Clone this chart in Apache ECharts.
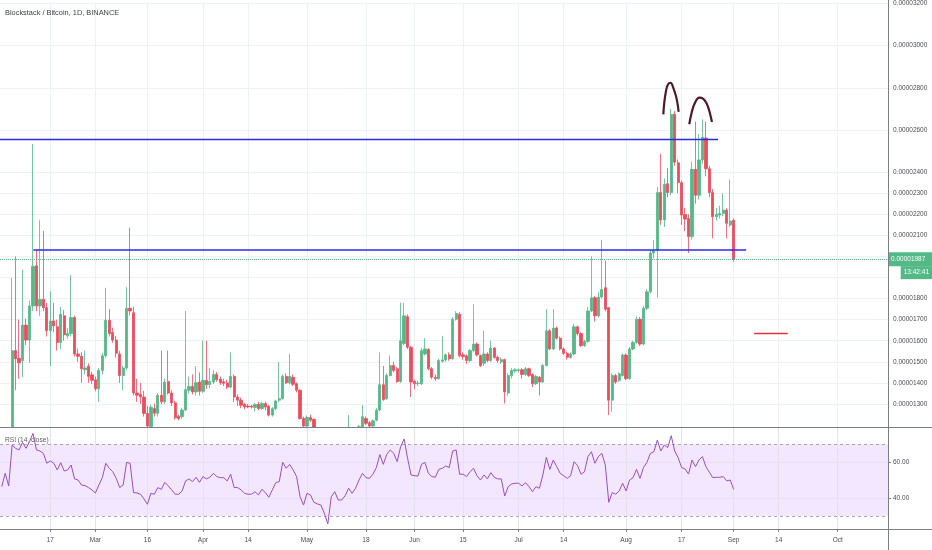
<!DOCTYPE html>
<html><head><meta charset="utf-8">
<script src="https://cdn.jsdelivr.net/npm/echarts@6/dist/echarts.min.js"></script>
<style>html,body{margin:0;padding:0;background:#fff}#c{width:932px;height:550px}</style>
</head><body><div id="c"></div>
<script>
// ---------- data (prices in satoshi, 1e-8 BTC) ----------
const startDate = [2020, 1, 3];   // 2020-02-03 (UTC, month 0-based)
const dayCount = 256;             // visible days on the time axis
const titleText = 'Blockstack / Bitcoin, 1D, BINANCE';
const rsiTitle = 'RSI (14, close)';
const countdownText = '13:42:41';

const openP = [1150,1130,1175,1150,1553,1517,1506,1674,1603,1765,
1956,1765,1796,1757,1647,1694,1666,1592,1718,1623,
1634,1710,1537,1526,1462,1479,1438,1415,1372,1459,
1529,1697,1639,1603,1537,1435,1471,1754,1733,1352,
1345,1333,1255,1192,1278,1256,1341,1310,1407,1352,
1305,1242,1239,1271,1365,1383,1357,1404,1360,1412,
1392,1404,1440,1418,1405,1400,1380,1431,1333,1318,
1299,1290,1289,1283,1299,1278,1302,1289,1247,1278,
1318,1325,1431,1400,1427,1396,1365,1231,1195,1236,
1227,1178,1170,1162,1125,1075,1150,1165,1135,1136,
1150,1172,1158,1174,1192,1231,1211,1195,1223,1271,
1391,1325,1435,1482,1467,1407,1587,1714,1569,1407,
1396,1396,1537,1558,1467,1427,1420,1503,1509,1533,
1514,1702,1725,1533,1528,1506,1553,1584,1529,1493,
1537,1506,1564,1521,1500,1510,1352,1435,1456,1459,
1462,1440,1467,1440,1396,1427,1404,1482,1647,1561,
1660,1612,1561,1540,1521,1537,1666,1634,1577,1597,
1741,1804,1718,1807,1851,1757,1318,1435,1412,1435,
1532,1420,1561,1592,1702,1584,1754,1832,2016,2028,
2303,2173,2345,2303,2674,2444,2350,2199,2180,2094,
2413,2290,2458,2562,2416,2303,2188,2196,2204,2220,
2149,2172];
const closeP = [1130,1175,1150,1553,1514,1495,1674,1603,1765,1953,
1765,1796,1757,1647,1694,1670,1592,1725,1628,1634,
1710,1537,1526,1467,1471,1431,1412,1372,1459,1529,
1697,1634,1603,1540,1435,1471,1754,1741,1352,1341,
1333,1255,1195,1284,1256,1341,1310,1404,1352,1305,
1234,1231,1271,1368,1383,1357,1401,1360,1412,1392,
1407,1440,1415,1401,1398,1380,1431,1333,1318,1294,
1286,1286,1285,1297,1278,1302,1285,1247,1278,1314,
1325,1431,1400,1431,1393,1365,1231,1195,1236,1223,
1178,1170,1162,1125,1075,1150,1165,1135,1136,1150,
1172,1158,1174,1192,1239,1208,1195,1220,1271,1391,
1321,1435,1482,1459,1407,1600,1718,1569,1404,1396,
1399,1553,1561,1467,1427,1420,1506,1509,1533,1514,
1702,1729,1529,1525,1506,1553,1584,1533,1482,1537,
1506,1564,1521,1506,1510,1357,1435,1459,1462,1462,
1440,1467,1435,1396,1431,1404,1482,1647,1561,1660,
1612,1561,1540,1521,1537,1666,1634,1577,1597,1741,
1804,1718,1807,1843,1749,1318,1435,1404,1443,1532,
1420,1561,1592,1702,1584,1754,1832,2016,2028,2303,
2173,2342,2303,2674,2447,2350,2196,2177,2094,2413,
2290,2458,2565,2416,2303,2188,2199,2204,2220,2157,
2168,1987];
const lowP = [1112,1122,1138,1140,1365,1420,1427,1580,1495,1740,
1740,1718,1740,1620,1480,1640,1553,1560,1600,1610,
1620,1525,1500,1400,1440,1400,1395,1360,1310,1440,
1520,1620,1590,1520,1400,1365,1460,1720,1340,1310,
1300,1240,1180,1180,1240,1240,1298,1300,1345,1290,
1225,1222,1230,1265,1350,1345,1340,1340,1352,1372,
1375,1395,1405,1390,1385,1370,1375,1310,1290,1280,
1275,1280,1278,1265,1270,1272,1270,1240,1240,1270,
1310,1320,1395,1392,1385,1355,1225,1185,1188,1215,
1170,1160,1150,1115,1060,1070,1140,1125,1125,1130,
1145,1150,1152,1170,1185,1200,1188,1190,1218,1265,
1315,1320,1430,1450,1400,1400,1580,1560,1333,1370,
1385,1390,1530,1460,1418,1410,1415,1495,1500,1505,
1510,1695,1520,1510,1490,1498,1545,1525,1475,1480,
1498,1500,1515,1495,1490,1302,1340,1420,1448,1450,
1420,1432,1428,1380,1390,1340,1400,1478,1555,1555,
1605,1555,1532,1510,1515,1530,1625,1570,1570,1590,
1735,1690,1710,1800,1740,1247,1263,1395,1405,1430,
1412,1415,1555,1585,1575,1578,1745,1825,1990,1804,
2150,2140,2280,2290,2430,2300,2150,2120,2016,2080,
2250,2270,2440,2380,2280,2086,2170,2180,2190,2086,
2140,1975];
const highP = [1168,1184,1186,1898,2000,1700,1937,1705,1790,2533,
2031,2172,2121,1780,1835,1780,1700,1760,1745,1660,
1911,1718,1562,1545,1553,1492,1452,1430,1470,1542,
1851,1750,1662,1622,1552,1482,1854,2136,1762,1420,
1400,1362,1290,1296,1302,1352,1553,1420,1553,1365,
1315,1250,1282,1741,1430,1440,1480,1450,1600,1600,
1470,1460,1452,1430,1420,1415,1545,1440,1345,1330,
1305,1300,1296,1305,1310,1310,1312,1295,1285,1320,
1498,1440,1445,1537,1440,1402,1370,1240,1245,1250,
1232,1185,1180,1170,1130,1160,1175,1170,1145,1160,
1247,1180,1182,1200,1294,1240,1218,1226,1280,1545,
1480,1445,1530,1500,1475,1780,1780,1725,1575,1415,
1410,1565,1612,1565,1475,1440,1515,1623,1540,1545,
1712,1740,1735,1545,1535,1560,1773,1592,1535,1647,
1545,1600,1570,1530,1520,1515,1445,1470,1470,1468,
1470,1475,1472,1445,1438,1432,1490,1749,1655,1749,
1668,1620,1568,1548,1545,1680,1672,1640,1605,1760,
2000,1812,1830,2078,1980,1760,1445,1442,1450,1540,
1540,1570,1600,1715,1712,1765,1845,2030,2078,2330,
2486,2370,2420,2700,2690,2460,2360,2230,2200,2450,
2640,2580,2650,2640,2430,2320,2230,2240,2298,2230,
2365,2180];
const rsi = [46.3,53.7,46.7,69.4,67.6,66.7,70.9,67.6,71.3,75.9,
66.7,66.1,64.8,59.3,60.6,59.3,55.6,59.6,55.0,55.6,
58.3,50.6,50.0,47.2,46.9,45.8,44.5,42.8,47.2,51.3,
59.3,56.5,54.6,50.9,45.8,47.2,59.8,59.3,43.0,42.8,
42.1,39.5,36.5,42.6,42.1,45.8,44.8,48.7,46.7,44.5,
42.1,42.1,43.9,49.5,50.6,49.1,51.5,48.7,51.9,50.6,
51.5,53.7,51.9,51.3,51.3,49.5,53.2,45.8,45.8,44.5,
42.6,42.1,42.1,43.5,41.7,44.8,43.0,40.4,44.5,48.5,
49.1,59.8,56.5,58.7,55.6,51.9,40.7,36.1,42.6,41.7,
37.6,36.7,36.1,31.5,25.6,40.7,43.5,38.9,38.9,41.3,
45.4,42.6,45.4,50.0,53.7,51.3,50.9,53.2,56.9,64.1,
58.7,64.3,66.7,64.8,60.2,68.5,72.8,62.0,52.8,52.4,
52.2,58.7,59.8,53.7,51.9,51.5,55.9,56.5,57.8,56.9,
66.1,66.7,53.2,53.2,51.9,54.6,56.5,52.4,50.0,52.8,
50.6,54.1,51.5,50.6,50.6,41.1,46.3,47.8,48.2,48.2,
46.7,48.5,46.3,43.5,46.3,45.4,52.8,62.6,55.9,61.1,
57.4,53.7,52.4,50.9,52.4,60.2,58.0,53.2,54.6,63.0,
65.7,59.3,63.0,64.8,58.3,37.6,43.0,42.1,43.9,48.2,
43.9,50.0,51.3,55.9,50.9,56.9,59.8,64.8,65.7,72.2,
66.1,69.4,68.0,74.6,66.1,62.4,56.9,56.1,53.3,61.1,
57.4,61.1,63.0,57.4,54.3,51.3,51.5,51.5,51.9,49.5,
50.0,44.8];

const tickDates = ['2020-02-17','2020-03-01','2020-03-16','2020-04-01','2020-04-14','2020-05-01','2020-05-18','2020-06-01','2020-06-15','2020-07-01','2020-07-14','2020-08-01','2020-08-17','2020-09-01','2020-09-14','2020-10-01'];
const tickLabels = ['17','Mar','16','Apr','14','May','18','Jun','15','Jul','14','Aug','17','Sep','14','Oct'];
const priceLabelValues = [1300,1400,1500,1600,1700,1800,2100,2200,2300,2400,2600,2800,3000,3200];
const priceGridValues = [1300,1400,1500,1600,1700,1800,1900,2000,2100,2200,2300,2400,2600,2800,3000,3200];
const priceRange = [1190.6, 3200];
const rsiRange = [22.78, 79.44];
const rsiLabelValues = [40, 60];
const rsiBand = [30, 70];

// drawn annotations: [day index from 2020-02-03, price]
const resistanceLine = [[-0.5, 2555], [206.5, 2555]];
const supportLine = [[9.1, 2031], [214.6, 2031]];
const targetLine = [[216.9, 1634], [226.6, 1634]];
const arcLeft = [[190.72,2674],[191.0,2729],[191.49,2784],[192.06,2816],[192.83,2824],[193.6,2800],[194.37,2761],[194.85,2722],[195.14,2686]];
const arcRight = [[198.21,2627],[198.89,2682],[199.85,2729],[201.1,2753],[202.25,2748],[203.22,2726],[203.99,2690],[204.75,2638]];

// ---------- build ----------
const FONT = 'Liberation Sans';
const UP = '#53b987', DOWN = '#eb4d5c';
const GRID = '#edf0f4', AXIS = '#7b7e87', TXT = '#4a4d55';

const dates = [];
const t0 = Date.UTC(startDate[0], startDate[1], startDate[2]);
for (let k = 0; k < dayCount; k++) dates.push(new Date(t0 + k * 86400000).toISOString().slice(0, 10));
const labelMap = {};
tickDates.forEach((d, k) => labelMap[d] = tickLabels[k]);
const isTick = (idx, val) => labelMap[val] !== undefined;

const candles = openP.map((o, i) => [o, closeP[i], lowP[i], highP[i]]);
const lastClose = closeP[closeP.length - 1];
const fmtPrice = v => (v * 1e-8).toFixed(8);

const chart = echarts.init(document.getElementById('c'), null, {renderer: 'canvas'});
const option = {
  animation: false,
  backgroundColor: '#ffffff',
  textStyle: {fontFamily: FONT},
  title: [
    {text: titleText, left: 5, top: 9, padding: 0, textStyle: {fontSize: 7.4, fontWeight: 'normal', color: '#3e414b', fontFamily: FONT}},
    {text: rsiTitle, left: 5, top: 437, padding: 0, z: 20, textStyle: {fontSize: 6.6, fontWeight: 'normal', color: '#5d606b', fontFamily: FONT}}
  ],
  grid: [
    {left: 0, right: 44, top: 0, height: 427},
    {left: 0, right: 44, top: 427, height: 102}
  ],
  xAxis: [
    {type: 'category', gridIndex: 0, data: dates, boundaryGap: true, show: false},
    {type: 'category', gridIndex: 1, data: dates, boundaryGap: true,
      axisLine: {show: false},
      axisTick: {show: true, interval: isTick, alignWithLabel: true, length: 3, lineStyle: {color: AXIS}},
      axisLabel: {show: true, interval: isTick, formatter: v => labelMap[v] || '', fontSize: 6.5, color: TXT, margin: 8, fontFamily: FONT},
      splitLine: {show: false}},
    {type: 'value', gridIndex: 0, min: -0.5, max: dayCount - 0.5, show: false}
  ],
  yAxis: [
    {type: 'value', gridIndex: 0, position: 'right', min: priceRange[0], max: priceRange[1],
      axisLine: {show: false},
      axisTick: {show: true, customValues: priceLabelValues, length: 3, lineStyle: {color: AXIS}},
      axisLabel: {customValues: priceLabelValues, formatter: fmtPrice, fontSize: 6.5, color: TXT, margin: 5, fontFamily: FONT},
      splitLine: {show: false}},
    {type: 'value', gridIndex: 1, position: 'right', min: rsiRange[0], max: rsiRange[1],
      axisLine: {show: false},
      axisTick: {show: true, customValues: rsiLabelValues, length: 3, lineStyle: {color: AXIS}},
      axisLabel: {customValues: rsiLabelValues, formatter: v => v.toFixed(2), fontSize: 6.5, color: TXT, margin: 5, fontFamily: FONT},
      splitLine: {show: false}}
  ],
  series: [
    {type: 'line', xAxisIndex: 0, yAxisIndex: 0, data: [], z: 1, silent: true,
      markLine: {z: 1, silent: true, symbol: ['none', 'none'], animation: false, label: {show: false},
        lineStyle: {color: GRID, width: 1, type: 'solid'},
        data: priceGridValues.map(v => ({yAxis: v})).concat(tickDates.map(d => ({xAxis: d})))}},
    {type: 'candlestick', xAxisIndex: 0, yAxisIndex: 0, data: candles, z: 3, barWidth: '80%', clip: true,
      itemStyle: {color: UP, color0: DOWN, borderColor: UP, borderColor0: DOWN, borderWidth: 0.8},
      markLine: {z: 6, silent: true, symbol: ['none', 'none'], animation: false,
        lineStyle: {color: UP, type: 'dotted', width: 1},
        label: {show: true, position: 'end', distance: 0, padding: [13, 0, 0, 0],
          formatter: p => '{p|' + fmtPrice(p.value) + '}\n{t|' + countdownText + '}',
          rich: {
            p: {backgroundColor: UP, color: '#fff', fontSize: 6.5, fontFamily: FONT, padding: [4, 3, 3, 3], width: 38, align: 'left'},
            t: {backgroundColor: UP, color: '#fff', fontSize: 6.5, fontFamily: FONT, padding: [3, 3, 3, 3], align: 'right'}
          }},
        data: [{yAxis: lastClose}]}},
    {type: 'line', xAxisIndex: 2, yAxisIndex: 0, data: resistanceLine, symbol: 'none', z: 5, silent: true, lineStyle: {color: '#2b2be6', width: 1.5}},
    {type: 'line', xAxisIndex: 2, yAxisIndex: 0, data: supportLine, symbol: 'none', z: 5, silent: true, lineStyle: {color: '#2b2be6', width: 1.5}},
    {type: 'line', xAxisIndex: 2, yAxisIndex: 0, data: targetLine, symbol: 'none', z: 5, silent: true, lineStyle: {color: '#e8303c', width: 1.6}},
    {type: 'line', xAxisIndex: 2, yAxisIndex: 0, data: arcLeft, symbol: 'none', smooth: 0.4, z: 5, silent: true, lineStyle: {color: '#4d1a2c', width: 2.2}},
    {type: 'line', xAxisIndex: 2, yAxisIndex: 0, data: arcRight, symbol: 'none', smooth: 0.4, z: 5, silent: true, lineStyle: {color: '#4d1a2c', width: 2.2}},
    {type: 'line', xAxisIndex: 1, yAxisIndex: 1, data: [], z: 10, silent: true,
      markArea: {z: 10, silent: true, data: [
        [{yAxis: rsiRange[0], itemStyle: {color: '#ffffff'}}, {yAxis: rsiRange[1]}],
        [{yAxis: rsiBand[0], itemStyle: {color: '#f3e7ff'}}, {yAxis: rsiBand[1]}]
      ]},
      markLine: {z: 11, silent: true, symbol: ['none', 'none'], animation: false, label: {show: false},
        lineStyle: {color: '#e6e1ec', width: 1, type: 'solid'},
        data: rsiLabelValues.map(v => ({yAxis: v}))
          .concat(tickDates.map(d => ({xAxis: d})))
          .concat(rsiBand.map(v => ({yAxis: v, lineStyle: {color: '#a9a9b3', type: [3, 3], width: 1}})))}},
    {type: 'line', xAxisIndex: 1, yAxisIndex: 1, data: rsi, symbol: 'none', z: 12, silent: true, lineStyle: {color: '#9a4fc0', width: 1}}
  ],
  graphic: [
    {type: 'line', shape: {x1: 0, y1: 427.5, x2: 932, y2: 427.5}, style: {stroke: AXIS, lineWidth: 1}, z: 50, silent: true},
    {type: 'line', shape: {x1: 0, y1: 529.5, x2: 932, y2: 529.5}, style: {stroke: AXIS, lineWidth: 1}, z: 50, silent: true},
    {type: 'line', shape: {x1: 888.5, y1: 0, x2: 888.5, y2: 550}, style: {stroke: AXIS, lineWidth: 1}, z: 50, silent: true}
  ]
};
chart.setOption(option);
</script>
</body></html>
